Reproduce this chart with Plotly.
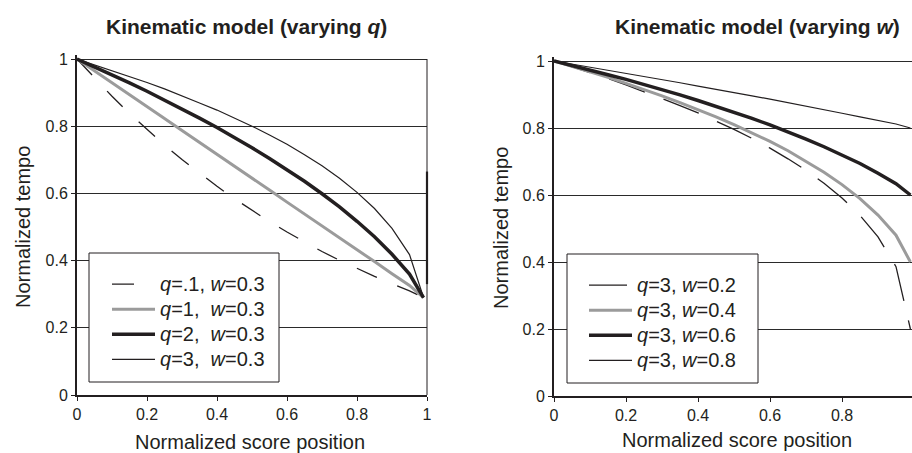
import plotly.graph_objects as go

# ---- data ----
x_pos = [0, 0.05, 0.1, 0.15, 0.2, 0.25, 0.3, 0.35, 0.4, 0.45, 0.5,
         0.55, 0.6, 0.65, 0.7, 0.75, 0.8, 0.85, 0.9, 0.95, 0.99]

# left panel: varying q (w = 0.3)
q01_w03 = [1.0, 0.943, 0.889, 0.838, 0.790, 0.744, 0.701, 0.660, 0.621, 0.584, 0.549,
           0.516, 0.485, 0.455, 0.427, 0.401, 0.376, 0.353, 0.331, 0.310, 0.29]
q1_w03 = [1.0, 0.965, 0.929, 0.894, 0.858, 0.823, 0.787, 0.752, 0.716, 0.681, 0.645,
          0.610, 0.574, 0.539, 0.503, 0.468, 0.432, 0.397, 0.361, 0.326, 0.29]
q2_w03 = [1.0, 0.977, 0.953, 0.929, 0.904, 0.878, 0.852, 0.824, 0.796, 0.767, 0.736,
          0.704, 0.671, 0.636, 0.599, 0.560, 0.517, 0.471, 0.419, 0.360, 0.29]
q3_w03 = [1.0, 0.983, 0.966, 0.949, 0.930, 0.911, 0.891, 0.869, 0.848, 0.825, 0.800,
          0.774, 0.746, 0.715, 0.682, 0.645, 0.603, 0.555, 0.496, 0.418, 0.29]

# right panel: varying w (q = 3)
q3_w02 = [1.0, 0.983, 0.966, 0.948, 0.929, 0.909, 0.889, 0.867, 0.845, 0.821, 0.796,
          0.769, 0.740, 0.708, 0.674, 0.635, 0.591, 0.539, 0.475, 0.386, 0.2]
q3_w04 = [1.0, 0.984, 0.968, 0.951, 0.933, 0.915, 0.896, 0.876, 0.855, 0.833, 0.810,
          0.786, 0.760, 0.732, 0.701, 0.668, 0.631, 0.589, 0.540, 0.480, 0.4]
q3_w06 = [1.0, 0.987, 0.973, 0.959, 0.945, 0.930, 0.914, 0.899, 0.882, 0.865, 0.847,
          0.829, 0.809, 0.789, 0.767, 0.744, 0.720, 0.694, 0.665, 0.634, 0.6]
q3_w08 = [1.0, 0.991, 0.982, 0.973, 0.963, 0.954, 0.945, 0.935, 0.925, 0.916, 0.906,
          0.896, 0.886, 0.876, 0.865, 0.855, 0.844, 0.833, 0.823, 0.812, 0.8]

left_names = ["<i>q</i>=.1, <i>w</i>=0.3", "<i>q</i>=1,&nbsp;&nbsp;<i>w</i>=0.3",
              "<i>q</i>=2,&nbsp;&nbsp;<i>w</i>=0.3", "<i>q</i>=3,&nbsp;&nbsp;<i>w</i>=0.3"]
right_names = ["<i>q</i>=3, <i>w</i>=0.2", "<i>q</i>=3, <i>w</i>=0.4",
               "<i>q</i>=3, <i>w</i>=0.6", "<i>q</i>=3, <i>w</i>=0.8"]

# the darker stretch of the left frame at x = 1
frame_mark_y = [0.33, 0.665]

FONT = "Arial, 'Liberation Sans', sans-serif"
INK = "#231f20"
GRAY = "#9b9b9b"

def styles(dash):
    return [
        dict(color=INK, width=1.3, dash=dash),
        dict(color=GRAY, width=3),
        dict(color=INK, width=3.5),
        dict(color=INK, width=1.2),
    ]

W, H = 912, 453
def px(v):
    return v / W
def py(v):
    return (H - v) / H

def big(t):
    return f'<span style="font-size:20px">{t}</span>'

fig = go.Figure()

for ys, name, st in zip([q01_w03, q1_w03, q2_w03, q3_w03], left_names, styles("22px,22px")):
    fig.add_trace(go.Scatter(x=x_pos, y=ys, mode="lines", name=big(name), line=st,
                             xaxis="x", yaxis="y", legend="legend", hoverinfo="skip"))
for ys, name, st in zip([q3_w02, q3_w04, q3_w06, q3_w08], right_names, styles("38px,20px")):
    fig.add_trace(go.Scatter(x=x_pos, y=ys, mode="lines", name=big(name), line=st,
                             xaxis="x2", yaxis="y2", legend="legend2", hoverinfo="skip"))

axis_common = dict(
    showgrid=False, zeroline=False, showline=True, linecolor=INK, linewidth=2,
    ticks="outside", ticklen=4, tickwidth=1, tickcolor=INK, automargin=False,
    tick0=0, dtick=0.2, tickfont=dict(family=FONT, size=16, color=INK),
)
yaxis_common = dict(axis_common, showgrid=True, gridcolor="#2a2a2a", gridwidth=1)

# left x=0 at 77px, x=1 at 427px ; right x=0 at 554px, x=1 at 914px
fig.update_layout(
    width=W, height=H,
    margin=dict(l=0, r=0, t=0, b=0, autoexpand=False),
    paper_bgcolor="white", plot_bgcolor="white",
    showlegend=True,
    xaxis=dict(axis_common, domain=[px(77), px(427)], range=[0, 1], anchor="y"),
    yaxis=dict(yaxis_common, domain=[py(395), py(55)], range=[0, 1 + 4 / 336], anchor="x"),
    xaxis2=dict(axis_common, domain=[px(554), 1.0], range=[0, (912 - 554) / 360], anchor="y2"),
    yaxis2=dict(yaxis_common, domain=[py(396), py(57)], range=[0, 1 + 4 / 335], anchor="x2"),
    legend=dict(x=px(107), y=py(266.5), xanchor="left", yanchor="top",
                bgcolor="rgba(0,0,0,0)", borderwidth=0, itemwidth=43,
                font=dict(family=FONT, size=17, color=INK), tracegroupgap=0),
    legend2=dict(x=px(584), y=py(267.5), xanchor="left", yanchor="top",
                 bgcolor="rgba(0,0,0,0)", borderwidth=0, itemwidth=43,
                 font=dict(family=FONT, size=17, color=INK), tracegroupgap=0),
)

shapes = [
    # legend boxes
    dict(type="rect", xref="paper", yref="paper", x0=px(89), x1=px(279), y0=py(382), y1=py(253),
         fillcolor="white", line=dict(color=INK, width=1), layer="above"),
    dict(type="rect", xref="paper", yref="paper", x0=px(567), x1=px(758), y0=py(383), y1=py(254),
         fillcolor="white", line=dict(color=INK, width=1), layer="above"),
    # right frame of left panel
    dict(type="line", xref="paper", yref="y", x0=px(427), x1=px(427), y0=0, y1=1,
         line=dict(color=INK, width=1), layer="above"),
    dict(type="line", xref="paper", yref="y", x0=px(427), x1=px(427),
         y0=frame_mark_y[0], y1=frame_mark_y[1], line=dict(color=INK, width=2.2), layer="above"),
]
fig.update_layout(shapes=shapes)

ann = []
def add_text(text, x, y, size, angle=0, bold=False):
    ann.append(dict(text=f"<b>{text}</b>" if bold else text, xref="paper", yref="paper",
                    x=x, y=y, xanchor="center", yanchor="middle", showarrow=False,
                    textangle=angle, font=dict(family=FONT, size=size, color=INK)))

add_text("Kinematic model (varying <i>q</i>)", px(246), py(27), 21, bold=True)
add_text("Kinematic model (varying <i>w</i>)", px(757), py(27), 21, bold=True)
add_text("Normalized tempo", px(23), py(227), 20, angle=-90)
add_text("Normalized tempo", px(501), py(228), 20, angle=-90)
add_text("Normalized score position", px(250), py(442), 20)
add_text("Normalized score position", px(737), py(440), 20)
fig.update_layout(annotations=ann)

fig.write_html("out.html",
               config={"displayModeBar": False},
               post_script="document.body.style.margin='0';"
                           "document.documentElement.style.overflow='hidden';")
